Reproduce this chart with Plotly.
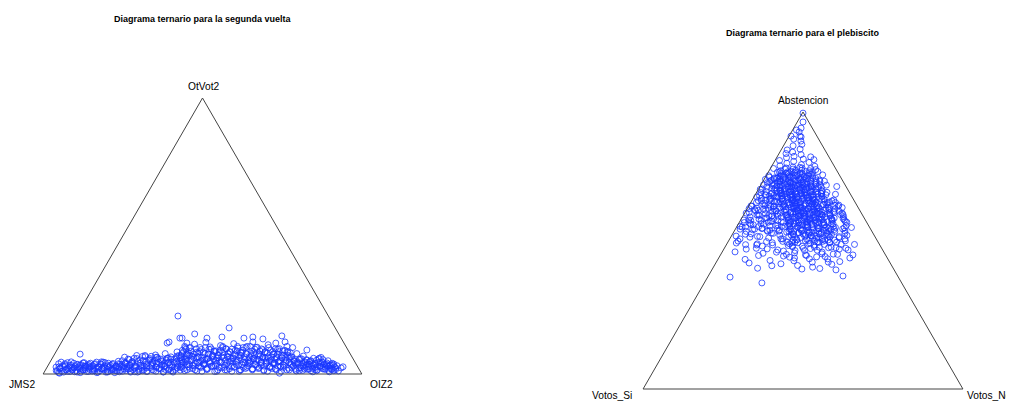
import plotly.graph_objects as go

# ---------------- Panel 1: segunda vuelta (values in %) ----------------
# a = OtVot2 (top), c = OIZ2 (bottom-right); JMS2 = 100 - a - c (filled in by plotly via sum)
otvot2 = [
    1.2, 0.5, 2.1, 0.3, 2.8, 1.5, 3.1, 0.9, 2.2, 1.4, 3.4, 0.8, 2.5, 1.8, 4.0, 1.1, 2.9, 7.2,
    1.6, 3.6, 2.2, 0.9, 3.0, 1.9, 4.3, 1.2, 2.6, 3.5, 0.7, 2.0, 4.1, 1.5, 3.0, 2.4, 0.9, 3.8,
    1.7, 2.9, 4.6, 1.2, 2.3, 3.4, 0.8, 4.0, 1.9, 2.7, 5.2, 1.3, 3.3,
    2.0, 4.5, 1.0, 3.1, 5.6, 2.4, 0.8, 3.9, 1.7, 4.8, 2.8, 6.3, 1.2, 3.6, 2.2, 5.1, 0.9, 4.2,
    2.9, 6.9, 1.6, 3.8, 5.5, 2.4, 1.0, 4.5, 3.2, 7.4, 1.8, 5.0, 2.7, 0.8, 4.0, 6.2, 3.3, 1.5,
    5.4, 2.4, 8.0, 4.4, 1.1, 3.6, 6.6, 2.2, 5.0, 9.6, 3.1, 1.4, 4.2, 7.1,
    21.0, 14.5, 16.7, 13.4, 13.8, 12.7, 11.2, 8.7, 11.6,
    2.5, 6.0, 4.2, 8.1, 1.2, 5.3, 3.3, 7.0, 9.5, 2.0, 4.8, 6.4, 3.0, 10.8, 5.7, 1.1, 7.6, 4.0,
    2.6, 8.9, 6.1, 3.6, 5.0, 11.5, 1.6, 7.3, 4.4, 9.8, 2.9, 6.6, 5.4, 0.9, 8.4, 3.8, 6.9, 4.7,
    10.3, 2.3, 7.8, 5.9, 3.2, 9.1, 1.4, 6.3, 4.5, 8.0, 2.7, 5.6, 11.0, 7.2, 3.5, 4.9, 9.4, 1.0,
    6.7, 5.2, 8.6, 2.4, 4.1, 7.5, 10.0, 3.0, 6.0, 4.6, 8.3, 1.8, 5.5, 7.0, 3.4, 9.7, 5.1, 2.2,
    6.5, 4.3, 8.8, 1.2, 5.8, 3.7, 7.6, 10.6, 4.8, 2.8, 6.2, 8.1, 3.9, 5.3, 1.5, 7.1, 4.4, 9.2,
    2.6, 5.9, 3.5, 6.8, 0.3, 4.9, 8.2, 2.1, 5.6, 3.8,
    6.2, 2.9, 4.6, 1.4, 7.4, 3.6, 5.2, 2.2, 4.1, 6.5, 1.8, 3.2, 5.0, 2.6, 4.4, 1.2, 3.7, 5.7,
    2.3, 3.3, 1.5, 4.2, 2.8, 6.0, 1.9, 3.4, 2.5, 4.0, 1.3, 3.0, 2.0, 3.6, 1.6, 2.2, 2.6,
    3.8, 7.4, 1.9, 5.6, 9.0, 4.6, 2.7, 6.8, 8.3, 3.1, 5.9, 1.5, 7.8, 4.2, 6.2, 9.6, 2.4, 5.0,
    3.8, 7.4, 1.9, 5.6, 9.0, 4.6, 2.7, 6.8, 8.3, 3.1, 5.9, 1.5, 7.8, 4.2, 6.2, 9.6, 2.4, 5.0,
    3.8, 7.4, 1.9, 5.6, 9.0, 4.6, 2.7, 6.8, 8.3, 3.1, 5.9, 1.5, 7.8, 4.2, 6.2, 9.6, 2.4, 5.0,
    3.8, 7.4, 1.9, 5.6, 9.0, 4.6, 2.7, 6.8, 8.3, 3.1, 5.9, 1.5, 7.8, 4.2, 6.2, 9.6, 2.4, 5.0,
    3.8, 7.4, 1.9, 5.6, 9.0, 4.6, 2.7, 6.8, 8.3, 3.1, 5.9, 1.5, 7.8, 4.2, 6.2, 2.4,
    2.6, 1.0, 3.7, 1.8, 4.4, 2.2, 0.7, 3.2, 1.5, 2.9, 2.6, 1.0, 3.7, 1.8, 4.4, 2.2, 0.7, 3.2,
    1.5, 2.9, 2.6, 1.0, 3.7, 1.8, 4.4, 2.2, 0.7, 3.2, 1.5, 2.9, 5.6, 4.0, 6.0, 2.0, 4.8, 3.0,
    5.8, 1.2, 4.4, 6.5,
    4.8, 2.0, 3.9, 1.2, 5.5, 2.9, 4.3, 1.7, 3.5, 4.8, 2.0, 3.9, 1.2, 5.5, 2.9, 4.3, 1.7, 3.5,
    4.8, 2.0, 3.9, 1.2,
    2.5, 1.1, 3.7, 1.9, 4.3, 2.9, 0.7, 3.3, 1.5, 4.1, 2.3, 0.9, 3.1, 1.7, 3.9, 2.7, 1.3, 3.5, 2.1, 0.5,
    3.3, 1.5, 4.1, 2.3, 0.9, 3.1, 1.7, 3.9, 2.7, 1.3, 3.5, 2.1, 0.5, 2.5, 1.1, 3.7, 1.9, 4.3, 2.9, 0.7,
    1.7, 3.9, 2.7, 1.3, 3.5, 2.1, 0.5, 2.5, 1.1, 3.7,
    3.5, 1.3, 4.8, 2.6, 6.1, 4.2, 2.0, 5.4, 3.2, 0.7, 3.9, 1.6, 5.7, 2.9, 6.7, 4.5, 1.0, 5.1, 2.3, 6.4,
    2.9, 6.7, 4.5, 1.0, 5.1, 2.3, 6.4, 3.5, 1.3, 4.8, 2.6, 6.1, 4.2, 2.0, 5.4, 3.2, 0.7, 3.9, 1.6, 5.7,
    4.2, 2.0, 5.4, 3.2, 0.7, 3.9, 1.6, 5.7, 2.9, 6.7,
    5.8, 2.4, 8.6, 4.3, 10.0, 6.7, 1.5, 7.7, 3.4, 9.6,
    5.3, 2.0, 7.2, 3.9, 9.1, 6.2, 2.9, 8.1, 4.8, 1.0,
    7.7, 3.4, 9.6, 5.3, 2.0, 7.2, 3.9, 9.1, 6.2, 2.9,
    8.1, 4.8, 1.0, 5.8, 2.4, 8.6, 4.3, 10.0, 6.7, 1.5,
    9.1, 6.2, 2.9, 8.1, 4.8, 1.0, 5.8, 2.4, 8.6, 4.3,
    10.0, 6.7, 1.5, 7.7, 3.4, 9.6, 5.3, 2.0, 7.2, 3.9,
    4.3, 10.0, 6.7, 1.5, 7.7, 3.4, 9.6, 5.3, 2.0, 7.2,
    3.9, 9.1, 6.2, 2.9, 8.1, 4.8, 1.0, 5.8, 2.4, 8.6,
    2.0, 7.2, 3.9, 9.1, 6.2, 2.9, 8.1, 4.8, 1.0, 5.8,
    2.4, 8.6, 4.3, 10.0, 6.7, 1.5, 7.7, 3.4, 9.6, 5.3,
    3.9, 1.1, 4.4, 2.1, 5.5, 3.1, 1.3, 4.2, 2.4, 5.2, 3.7, 1.8, 4.7, 2.9, 0.8, 3.4, 1.6, 5.0,
    2.6, 5.7, 4.2, 2.4, 5.2, 3.7, 1.8, 3.0, 2.9, 0.8, 3.4, 1.6, 3.2, 2.6, 2.2, 3.0, 1.1,
    # points standing above the band
    11.2, 11.6, 13.0, 13.0, 11.2, 13.0, 13.4, 13.0, 11.6,
]
oiz2 = [
    3.5, 4.6, 4.2, 5.0, 5.5, 6.3, 6.8, 7.2, 7.9, 8.4, 8.8, 9.5, 9.9, 10.6, 10.5, 11.3, 11.7, 8.0,
    12.4, 12.5, 13.2, 13.8, 14.1, 14.9, 14.6, 15.6, 16.0, 16.5, 16.9, 17.5, 17.4, 18.3, 18.7, 19.4, 19.9, 20.0,
    20.8, 21.4, 21.3, 22.0, 22.6, 23.1, 23.5, 23.8, 24.3, 24.9, 24.4, 25.4, 25.6,
    26.2, 25.8, 26.9, 27.2, 26.6, 27.9, 28.4, 28.5, 29.2, 29.0, 29.8, 28.9, 30.5, 30.6, 31.3, 31.0, 32.0, 32.1,
    32.7, 31.8, 33.4, 33.6, 33.3, 34.3, 34.9, 34.9, 35.5, 34.6, 36.2, 36.1, 36.8, 37.4, 37.3, 37.0, 38.1, 38.7,
    38.5, 39.2, 38.0, 39.6, 40.2, 40.4, 40.0, 41.0, 41.1, 39.8, 41.8, 42.3, 42.4, 41.5,
    31.8, 40.3, 50.0, 59.1, 68.0, 62.6, 67.4, 78.4, 70.1,
    41.8, 40.3, 41.6, 40.0, 43.8, 42.1, 43.5, 41.9, 41.1, 45.1, 44.1, 43.6, 45.7, 42.1, 45.1, 47.7, 44.8, 46.9,
    48.0, 45.2, 47.0, 48.5, 48.2, 45.3, 50.6, 48.1, 49.9, 47.5, 51.4, 49.8, 50.8, 53.4, 50.0, 52.6, 51.5, 52.9,
    50.5, 54.8, 52.4, 53.7, 55.4, 52.8, 57.0, 54.9, 56.2, 54.7, 57.8, 56.6, 54.3, 56.5, 58.8, 58.4, 56.5, 61.0,
    58.6, 59.6, 58.3, 61.7, 61.3, 59.9, 59.0, 62.8, 61.7, 62.7, 61.3, 64.8, 63.4, 62.9, 65.1, 62.3, 65.0, 66.7,
    64.9, 66.4, 64.5, 68.6, 66.7, 68.1, 66.5, 65.3, 68.6, 69.9, 68.6, 68.0, 70.5, 70.1, 72.4, 69.9, 71.6, 69.5,
    73.2, 71.9, 73.5, 72.1, 74.0, 73.8, 72.5, 75.9, 74.5, 75.7,
    74.9, 77.0, 76.5, 78.5, 75.9, 78.2, 77.8, 79.7, 79.2, 78.4, 81.1, 80.8, 80.3, 81.9, 81.4, 83.4, 82.6, 82.0,
    84.1, 83.9, 85.3, 84.3, 85.4, 84.2, 86.7, 86.3, 87.3, 87.0, 88.9, 88.5, 89.6, 89.4, 91.0, 92.4, 92.8,
    41.3, 39.9, 43.1, 41.6, 40.3, 42.9, 44.3, 42.6, 42.3, 45.3, 44.3, 46.9, 44.1, 46.3, 45.7, 44.4, 48.4, 47.5,
    48.5, 47.1, 50.3, 48.8, 47.5, 50.1, 51.5, 49.8, 49.5, 52.5, 51.5, 54.1, 51.3, 53.5, 52.9, 51.6, 55.6, 54.7,
    55.7, 54.3, 57.5, 56.0, 54.7, 57.3, 58.7, 57.0, 56.7, 59.7, 58.7, 61.3, 58.5, 60.7, 60.1, 58.8, 62.8, 61.9,
    62.9, 61.5, 64.7, 63.2, 61.9, 64.5, 65.9, 64.2, 63.9, 66.9, 65.9, 68.5, 65.7, 67.9, 67.3, 66.0, 70.0, 69.1,
    70.1, 68.7, 71.9, 70.4, 69.1, 71.7, 73.1, 71.4, 71.1, 74.1, 73.1, 75.7, 72.9, 75.1, 74.5, 76.8,
    3.7, 5.4, 5.0, 6.9, 6.6, 8.6, 10.3, 10.0, 11.8, 12.0, 13.2, 14.9, 14.5, 16.4, 16.1, 18.1, 19.8, 19.5,
    21.3, 21.5, 22.7, 24.4, 24.0, 25.9, 25.6, 27.6, 29.3, 29.0, 30.8, 31.0, 30.7, 32.4, 32.4, 35.3, 34.9, 36.7,
    36.3, 39.5, 38.9, 38.8,
    76.2, 78.2, 77.9, 79.8, 78.3, 80.2, 80.1, 82.0, 81.7, 81.6, 83.6, 83.3, 85.2, 83.7, 85.6, 85.5, 87.4, 87.1,
    87.0, 89.0, 88.7, 90.6,
    2.8, 3.9, 3.0, 4.3, 3.5, 4.6, 6.1, 5.2, 6.5, 5.6, 6.9, 8.0, 7.3, 8.4, 7.7, 8.7, 9.8, 9.1, 10.2, 11.4,
    10.4, 11.7, 10.8, 12.1, 13.2, 12.5, 13.6, 12.9, 13.9, 15.0, 14.3, 15.4, 16.6, 16.0, 17.1, 16.2, 17.5, 16.7, 17.8, 19.3,
    19.2, 18.5, 19.5, 20.6, 19.9, 21.0, 22.2, 21.6, 22.7, 21.8,
    22.3, 23.7, 22.4, 23.8, 22.5, 23.8, 25.3, 24.0, 25.4, 27.1, 25.9, 27.4, 25.7, 27.5, 26.0, 27.5, 29.6, 27.9, 29.7, 28.0,
    30.2, 28.6, 30.1, 32.2, 30.6, 32.4, 30.7, 32.5, 34.0, 32.6, 34.1, 32.7, 34.1, 35.5, 34.2, 35.7, 37.3, 36.1, 37.6, 36.0,
    37.1, 38.6, 37.3, 38.7, 40.4, 39.2, 40.7, 39.0, 40.8, 39.3,
    40.1, 42.2, 39.4, 41.9, 39.4, 41.5, 44.4, 41.7, 44.2, 41.4,
    44.0, 46.0, 43.7, 45.7, 43.5, 45.3, 47.3, 45.1, 47.1, 49.3,
    46.4, 48.9, 46.1, 48.6, 50.6, 48.4, 50.4, 48.2, 50.0, 52.0,
    49.8, 51.8, 54.0, 52.0, 54.0, 51.3, 53.8, 51.3, 53.3, 56.3,
    52.9, 54.7, 56.7, 54.4, 56.4, 58.7, 56.7, 58.7, 56.0, 58.5,
    56.0, 58.0, 61.0, 58.2, 60.7, 58.0, 60.5, 62.5, 60.3, 62.3,
    62.5, 60.0, 62.0, 64.9, 62.2, 64.7, 62.0, 64.5, 66.5, 64.2,
    66.3, 64.0, 65.8, 67.8, 65.6, 67.6, 69.9, 67.8, 69.9, 67.1,
    70.8, 68.6, 70.6, 68.3, 70.1, 72.2, 69.9, 71.9, 74.2, 72.1,
    74.2, 71.5, 74.0, 71.5, 73.5, 76.5, 73.7, 76.2, 73.5, 76.0,
    77.1, 78.9, 77.6, 79.2, 77.9, 79.5, 80.8, 79.7, 81.0, 80.0, 81.2, 82.5, 81.5, 82.8, 84.2, 83.3, 84.6, 83.3,
    84.9, 83.8, 84.9, 86.2, 85.2, 86.4, 87.7, 87.5, 88.0, 89.4, 88.5, 89.8, 89.4, 90.1, 90.7, 90.7, 92.1,
    # points standing above the band
    33.3, 33.7, 36.4, 37.1, 39.5, 44.9, 49.4, 56.5, 60.0,
]

# ---------------- Panel 2: plebiscito (values in %) ----------------
# a = Abstencion (top), c = Votos_No (bottom-right); Votos_Si = 100 - a - c
abstencion = [
    99.6, 96.4, 94.2, 92.8, 91.3, 91.3, 91.0, 93.5, 90.2, 89.5,
    87.8, 86.3, 86.6, 85.5, 85.0, 84.6, 84.0, 88.3,
    83.5, 83.0, 82.5, 82.2, 81.8, 81.5, 81.0, 80.6, 80.4, 80.1, 83.8, 82.8,
    79.6, 79.3, 79.0, 78.8, 78.5, 78.2, 78.0, 77.8, 77.5, 77.3, 77.0, 76.8, 76.6, 76.4, 76.2, 76.0,
    75.8, 75.6, 75.4, 75.2, 75.0, 79.8, 78.6, 77.1, 75.9,
    74.8, 74.6, 74.4, 74.2, 74.0, 73.8, 73.6, 73.4, 73.2, 73.0, 72.8, 72.6, 72.4, 72.2, 72.0, 71.8,
    71.6, 71.4, 71.2, 71.0, 70.8, 70.6, 70.4, 70.2, 70.0, 70.1, 74.9, 73.7, 72.9, 72.3, 71.5, 71.9,
    70.5, 73.1, 70.3,
    69.8, 69.6, 69.4, 69.2, 69.0, 68.8, 68.6, 68.4, 68.2, 68.0, 67.8, 67.6, 67.4, 67.2, 67.0, 66.8,
    66.6, 66.4, 66.2, 66.0, 65.8, 65.6, 65.4, 65.2, 65.0, 65.3, 65.1, 69.9, 69.1, 68.3, 67.7, 67.1,
    66.5, 65.9, 66.9, 68.7, 69.5, 67.3, 65.5, 68.9,
    64.8, 64.6, 64.4, 64.2, 64.0, 63.8, 63.6, 63.4, 63.2, 63.0, 62.8, 62.6, 62.4, 62.2, 62.0, 61.8,
    61.6, 61.4, 61.2, 61.0, 60.8, 60.6, 60.4, 60.2, 60.0, 60.1, 60.3, 60.5, 64.9, 64.3, 63.7, 63.1,
    62.5, 61.9, 61.3, 60.7, 62.9, 64.1, 61.5, 63.3,
    59.8, 59.5, 59.2, 59.0, 58.8, 58.5, 58.2, 58.0, 57.8, 57.5, 57.2, 57.0, 56.8, 56.5, 56.2, 56.0,
    55.8, 55.5, 55.2, 55.0, 59.6, 58.6, 57.6, 56.6, 55.6, 59.1, 57.3, 56.3, 58.3, 55.4, 59.9, 57.9,
    56.9, 55.9, 58.7,
    54.8, 54.5, 54.2, 54.0, 53.6, 53.3, 53.0, 52.7, 52.4, 52.0, 51.8, 51.5, 51.2, 51.0, 50.8, 50.5,
    50.2, 50.0, 54.6, 53.8, 52.9, 52.2, 51.6, 50.7, 53.5,
    49.5, 49.0, 48.6, 48.2, 47.8, 47.3, 46.8, 46.3, 45.8, 45.0, 44.5, 43.5,
    40.4, 38.3, 45.5, 40.8, 43.0, 43.3, 48.4, 53.4, 58.5,
    78.3, 77.9, 78.4, 77.7, 78.1, 77.2, 76.9, 77.4, 76.7, 77.0, 76.5, 76.1, 75.7, 76.3, 75.5, 75.9,
    76.0, 75.1, 74.7, 75.3, 74.5, 74.9, 75.0, 74.3, 73.9, 74.1, 73.5, 74.0, 73.3, 73.8, 73.6, 72.7,
    73.2, 72.5, 73.0, 72.3, 72.8, 72.1, 72.9, 71.7, 72.1, 71.4, 71.9, 71.2, 71.6, 71.3, 70.8, 71.1,
    70.4, 70.9, 70.2, 70.7, 70.6, 70.3, 69.8, 70.0, 69.4, 69.9, 69.2, 69.6, 69.3, 69.7, 68.8, 69.1,
    68.4, 68.9, 68.2, 68.6, 68.5, 68.1, 67.8, 68.0, 67.4, 67.9, 67.2, 67.6, 67.3, 67.7, 66.8, 67.1,
    66.4, 66.9, 66.2, 66.6, 66.5, 66.1, 65.8, 66.0, 65.4, 65.9, 65.2, 65.6, 65.3, 65.7, 64.8, 65.1,
    64.4, 64.9, 64.2, 64.6, 64.5, 64.1, 63.8, 64.0, 63.4, 63.9, 63.2, 63.6, 63.3, 63.7, 62.8, 63.1,
    62.4, 62.9, 62.2, 62.6, 62.5, 62.1, 61.8, 62.0, 61.4, 61.9, 61.2, 61.6, 61.3, 60.8, 61.1, 60.4,
    60.9, 60.2, 60.6, 60.5, 59.8, 60.0, 59.4, 59.9, 59.2, 59.6, 59.3, 58.8, 59.1, 58.4, 58.9, 58.2,
    58.6, 57.8, 58.0, 57.4, 57.9, 57.2, 57.6, 56.8, 57.1, 56.4, 56.9, 56.2, 55.8, 56.0, 55.4, 55.9,
    55.2, 54.8, 55.1, 54.4, 54.7, 53.8, 54.0, 53.4, 53.7, 52.8, 52.5, 52.9,
    80.0, 79.8, 79.6, 79.4, 79.2, 79.0, 78.8, 78.6, 78.4, 78.2, 78.0, 77.8, 77.6, 77.4, 77.2, 77.0,
    76.8, 76.6, 76.4, 76.2,
    76.0, 75.8, 75.7, 75.5, 75.4, 75.2, 75.0, 74.9, 74.7, 74.6, 74.4, 74.2, 74.1, 73.9, 73.8, 73.6,
    73.4, 73.3, 73.1, 73.0, 72.8, 72.6, 72.5, 72.3, 72.2,
    72.0, 71.9, 71.7, 71.6, 71.5, 71.3, 71.2, 71.1, 70.9, 70.8, 70.7, 70.5, 70.4, 70.3, 70.1, 70.0,
    69.9, 69.7, 69.6, 69.5, 69.3, 69.2, 69.1, 68.9, 68.8, 68.7, 68.5, 68.4, 68.3, 68.1,
    68.0, 67.9, 67.7, 67.6, 67.5, 67.3, 67.2, 67.1, 66.9, 66.8, 66.7, 66.5, 66.4, 66.3, 66.1, 66.0,
    65.9, 65.7, 65.6, 65.5, 65.3, 65.2, 65.1, 64.9, 64.8, 64.7, 64.5, 64.4, 64.3, 64.1,
    64.0, 63.9, 63.7, 63.6, 63.5, 63.3, 63.2, 63.1, 62.9, 62.8, 62.7, 62.5, 62.4, 62.3, 62.1, 62.0,
    61.9, 61.7, 61.6, 61.5, 61.3, 61.2, 61.1, 60.9, 60.8, 60.7, 60.5, 60.4, 60.3, 60.1,
    60.0, 59.9, 59.7, 59.6, 59.4, 59.3, 59.2, 59.0, 58.9, 58.7, 58.6, 58.4, 58.3, 58.2, 58.0, 57.9,
    57.7, 57.6, 57.4, 57.3, 57.2, 57.0, 56.9, 56.7, 56.6, 56.4, 56.3, 56.2,
    56.0, 55.8, 55.6, 55.5, 55.3, 55.1, 54.9, 54.7, 54.6, 54.4, 54.2, 54.0, 53.8, 53.7, 53.5, 53.3,
    53.1, 52.9, 52.8, 52.6, 52.4, 52.2,
    51.9, 51.5, 51.2, 50.8, 50.5, 50.1, 49.8, 49.4, 49.1, 48.7, 48.4, 48.0, 47.7, 47.3, 47.0,
    68.0, 67.0, 66.0, 65.2, 64.3, 63.5, 62.7, 61.8, 61.0, 60.2, 59.4, 58.6, 57.7, 56.9, 56.0, 55.1,
    54.2, 53.2, 52.1, 50.8,
    # left flank of the cloud, near the Votos_Si side
    76.5, 76.1, 75.7, 75.3, 74.9, 74.5, 74.1, 73.7, 73.3, 72.9,
    72.5, 72.1, 71.7, 71.3, 70.9, 70.5, 70.1, 69.7, 69.3, 68.9,
    68.5, 68.1, 67.7, 67.3, 66.9, 66.5, 66.1, 65.7, 65.3, 64.9,
    64.5, 64.1, 63.7, 63.3, 62.9, 62.5, 62.1, 61.7, 61.3, 60.9,
    60.5, 60.1, 59.7, 59.3, 58.9, 58.5, 58.1, 57.7, 57.3, 56.9,
    # right flank
    67.5, 66.3, 65.0, 64.2, 63.0, 62.2, 61.0, 60.2, 59.0, 58.2,
    57.0, 56.2, 55.0, 54.2, 53.0, 52.2, 51.0, 50.2, 66.0, 63.5,
    # lower fringe
    52.8, 52.0, 51.4, 50.6, 50.0, 49.4, 48.8, 48.2, 47.6, 47.0,
    46.4, 45.8, 45.2, 44.6, 44.0, 43.6, 46.0, 48.6, 51.2, 53.0,
]
votos_no = [
    0.2, 1.8, 2.3, 2.4, 3.4, 0.6, 3.9, 1.2, 2.0, 4.6,
    3.0, 1.9, 5.8, 4.0, 2.2, 7.1, 5.2, 5.5,
    3.1, 8.6, 1.4, 6.0, 11.0, 4.2, 9.0, 2.5, 13.5, 6.8, 10.5, 12.0,
    1.0, 4.8, 8.2, 12.6, 15.4, 2.9, 6.5, 10.1, 13.8, 17.5, 0.8, 4.4, 7.7, 11.2, 14.9, 9.3,
    3.0, 6.0, 12.5, 16.5, 19.2, 9.8, 7.0, 9.0, 10.9,
    2.2, 5.5, 8.8, 11.6, 14.2, 17.0, 20.5, 3.8, 7.0, 9.9, 12.7, 15.5, 18.6, 1.2, 5.0, 8.3,
    11.1, 13.9, 16.8, 22.0, 6.6, 9.6, 12.4, 15.3, 18.3, 3.1, 10.0, 13.0, 16.2, 10.5, 7.2, 14.6,
    20.5, 24.0, 25.0,
    1.5, 4.6, 7.5, 10.4, 13.1, 15.9, 18.8, 21.7, 25.5, 3.0, 6.2, 9.1, 11.8, 14.6, 17.3, 20.2,
    23.0, 28.0, 5.0, 8.0, 10.8, 13.5, 16.2, 19.0, 21.8, 24.5, 0.6, 12.0, 16.8, 12.2, 15.5, 19.5,
    12.4, 15.0, 9.8, 9.0, 20.0, 26.5, 29.5, 5.5,
    2.5, 6.0, 9.3, 12.0, 14.8, 17.5, 20.3, 23.0, 26.0, 31.0, 4.2, 8.0, 11.0, 13.8, 16.6, 19.4,
    22.1, 25.0, 28.5, 1.0, 6.5, 10.0, 13.0, 15.9, 18.7, 21.5, 24.5, 33.0, 18.0, 21.6, 14.2, 19.0,
    17.2, 14.5, 20.8, 17.3, 24.4, 27.5, 31.8, 10.5,
    3.5, 8.0, 12.5, 15.8, 19.0, 22.2, 25.5, 29.0, 33.5, 5.5, 10.2, 14.0, 17.2, 20.4, 23.6, 27.0,
    31.0, 36.0, 1.5, 9.0, 17.5, 14.0, 20.5, 24.5, 18.5, 21.5, 27.8, 12.0, 36.0, 26.0, 26.5, 8.2,
    31.5, 4.0, 1.0,
    6.0, 12.0, 16.5, 21.0, 25.0, 29.5, 34.0, 2.8, 9.5, 14.5, 19.5, 24.0, 28.0, 32.5, 38.0, 7.0,
    17.0, 22.5, 27.5, 31.0, 20.0, 40.0, 11.5, 27.0, 36.5,
    4.0, 13.0, 20.5, 27.0, 33.0, 41.0, 8.5, 24.0, 30.0, 36.5, 18.0, 33.5,
    7.0, 18.0, 10.4, 42.1, 38.8, 28.0, 41.4, 3.0, 1.7,
    3.5, 6.0, 8.4, 11.0, 13.0, 4.6, 7.2, 9.6, 12.2, 14.5, 5.8, 4.0, 6.9, 8.8, 11.5, 13.6,
    16.0, 5.2, 7.9, 10.2, 12.8, 15.0, 17.8, 9.1, 5.9, 8.0, 10.8, 13.6, 15.8, 18.3, 11.9, 6.4,
    8.6, 11.3, 13.9, 16.6, 19.3, 12.8, 10.0, 7.2, 9.4, 12.0, 14.2, 17.3, 20.0, 10.6, 7.9, 10.2,
    12.9, 15.1, 17.9, 20.4, 14.2, 9.0, 8.5, 11.0, 13.5, 16.1, 18.6, 21.0, 11.9, 14.8, 9.2, 11.6,
    14.3, 16.8, 19.5, 22.3, 12.8, 17.6, 9.9, 12.6, 15.1, 17.8, 20.4, 23.0, 13.8, 19.0, 10.6, 13.1,
    15.9, 18.5, 21.2, 24.1, 14.6, 17.2, 11.4, 14.0, 16.8, 19.4, 22.1, 25.0, 15.5, 20.6, 12.2, 14.7,
    17.5, 20.2, 22.9, 25.8, 16.1, 19.0, 12.8, 15.5, 18.3, 21.0, 23.7, 26.5, 17.0, 22.4, 13.6, 16.3,
    19.1, 21.8, 24.6, 27.2, 18.0, 22.8, 14.4, 17.0, 19.9, 22.5, 25.4, 28.0, 21.3, 15.0, 17.9, 20.7,
    23.4, 26.3, 28.8, 22.0, 15.8, 18.6, 21.5, 24.1, 27.0, 29.6, 23.2, 16.5, 19.4, 22.3, 25.0, 27.8,
    30.2, 17.3, 20.2, 23.0, 25.8, 28.6, 31.0, 18.0, 21.0, 23.8, 26.5, 29.4, 19.0, 22.0, 24.8, 27.6,
    30.4, 20.0, 23.0, 25.8, 28.6, 21.2, 24.2, 27.0, 30.0, 22.0, 25.5, 28.5,
    9.0, 4.8, 12.6, 7.2, 14.4, 10.2, 3.6, 11.4, 6.0, 13.8, 8.4, 4.2, 10.8, 6.6, 13.2, 9.6,
    5.4, 12.0, 7.8, 3.0,
    13.0, 4.8, 14.5, 7.8, 17.5, 10.8, 5.5, 13.8, 8.5, 16.8, 12.3, 7.0, 15.3, 10.0, 4.0, 11.5,
    6.3, 16.0, 9.3, 18.3, 13.3, 5.1, 14.8, 8.1, 17.8,
    13.1, 6.8, 16.7, 10.4, 20.3, 14.9, 8.6, 18.5, 12.2, 5.0, 14.0, 7.7, 19.4, 11.3, 22.1, 15.8,
    5.9, 17.6, 9.5, 21.2, 13.6, 7.3, 17.2, 10.9, 20.8, 15.4, 9.1, 19.0, 12.7, 5.5,
    13.7, 25.1, 18.4, 8.0, 20.3, 11.8, 24.1, 15.6, 8.9, 19.4, 12.7, 23.2, 17.5, 10.8, 21.3, 14.6,
    7.0, 16.5, 9.9, 22.2, 14.2, 25.6, 19.0, 8.5, 20.9, 12.3, 24.7, 16.1, 9.5, 19.9,
    23.7, 14.3, 27.9, 18.5, 11.1, 22.7, 15.3, 26.9, 20.6, 13.2, 24.8, 17.4, 9.0, 19.5, 12.2, 25.8,
    16.4, 28.9, 21.6, 10.1, 24.3, 14.9, 28.5, 19.1, 11.7, 23.3, 15.9, 27.5, 21.2, 13.8,
    25.0, 18.0, 29.0, 23.0, 16.0, 27.0, 20.0, 12.0, 22.0, 15.0, 28.0, 19.0, 31.0, 24.0, 13.0, 26.0,
    17.0, 30.0, 21.0, 14.0, 25.6, 18.6, 29.6, 23.6, 16.6, 27.6, 20.6, 12.6,
    19.0, 30.0, 23.0, 15.0, 25.0, 18.0, 31.0, 22.0, 34.0, 27.0, 16.0, 29.0, 20.0, 33.0, 24.0, 17.0,
    28.0, 21.0, 32.0, 26.0, 19.6, 30.6,
    27.5, 20.9, 33.2, 24.7, 36.1, 29.4, 19.0, 31.3, 22.8, 35.1, 26.6, 19.9, 30.4, 23.7, 34.2,
    2.0, 4.5, 1.0, 6.5, 3.0, 0.5, 5.0, 7.8, 2.5, 9.0, 4.0, 6.8, 1.5, 10.5, 5.8, 8.2,
    3.2, 12.0, 6.0, 10.0,
    # left flank of the cloud, near the Votos_Si side
    1.2, 3.6, 0.4, 2.4, 4.6, 1.6, 3.2, 0.8, 5.2, 2.2,
    4.0, 0.6, 6.0, 2.8, 1.4, 4.8, 3.4, 6.6, 0.9, 2.6,
    5.6, 4.2, 7.2, 1.8, 3.9, 6.2, 0.7, 7.9, 2.9, 5.2,
    3.8, 8.4, 1.3, 6.6, 4.6, 9.0, 2.4, 7.4, 5.6, 3.2,
    9.6, 1.6, 7.0, 4.8, 10.2, 2.8, 8.2, 6.0, 11.0, 3.8,
    # right flank
    24.5, 26.8, 27.5, 29.2, 30.2, 31.6, 32.4, 33.6, 34.0, 33.8,
    34.6, 35.0, 33.8, 36.0, 31.8, 35.8, 34.8, 39.0, 28.0, 30.5,
    # lower fringe
    14.0, 9.5, 21.0, 13.5, 25.5, 17.0, 31.5, 12.0, 22.0, 28.5,
    16.5, 35.0, 20.5, 26.0, 31.0, 14.0, 38.5, 36.5, 29.5, 18.5,
]
assert len(otvot2) == len(oiz2), (len(otvot2), len(oiz2))
assert len(abstencion) == len(votos_no), (len(abstencion), len(votos_no))

titles = ["Diagrama ternario para la segunda vuelta", "Diagrama ternario para el plebiscito"]
labels1 = ["OtVot2", "JMS2", "OIZ2"]
labels2 = ["Abstencion", "Votos_Si", "Votos_No"]

# page body has an 8px margin: the figure is drawn from (8, 8) in the window
OFF = 8
W, H = 1014 - OFF, 401 - OFF
FONT = "Liberation Sans, Arial, sans-serif"
marker = dict(symbol="circle-open", size=6, color="rgba(25,55,255,0.8)",
              line=dict(width=1, color="rgba(25,55,255,0.8)"))

fig = go.Figure()
fig.add_trace(go.Scatterternary(a=otvot2, c=oiz2, sum=100, mode="markers",
                                marker=marker, subplot="ternary", cliponaxis=False,
                                showlegend=False, hoverinfo="skip"))
fig.add_trace(go.Scatterternary(a=abstencion, c=votos_no, sum=100, mode="markers",
                                marker=marker, subplot="ternary2", cliponaxis=False,
                                showlegend=False, hoverinfo="skip"))

def axis():
    return dict(showgrid=False, showticklabels=False, ticks="", linecolor="#444",
                linewidth=1, title=dict(text=""), min=0)

def tern(x0, x1, ytop, ybot):
    return dict(sum=100, bgcolor="white",
                domain=dict(x=[(x0 - OFF) / W, (x1 - OFF) / W],
                            y=[1 - (ybot - OFF) / H, 1 - (ytop - OFF) / H]),
                aaxis=axis(), baxis=axis(), caxis=axis())

fig.update_layout(
    width=W, height=H, margin=dict(l=0, r=0, t=0, b=0),
    paper_bgcolor="white", plot_bgcolor="white",
    font=dict(family=FONT, color="black"),
    ternary=tern(43, 362, 98, 374),
    ternary2=tern(643, 963, 112, 389),
)

def ann(text, x, y, size=10.2, bold=False):
    fig.add_annotation(text=f"<b>{text}</b>" if bold else text,
                       x=(x - OFF) / W, y=1 - (y - OFF) / H,
                       xref="paper", yref="paper", showarrow=False,
                       xanchor="center", yanchor="middle",
                       font=dict(size=size, color="black", family=FONT))

ann(titles[0], 203, 19, size=9, bold=True)
ann(titles[1], 803, 33, size=9, bold=True)
ann(labels1[0], 203, 86)
ann(labels1[1], 22, 384)
ann(labels1[2], 381, 384)
ann(labels2[0], 803, 100)
ann(labels2[1], 612, 395)
ann(labels2[2], 989, 395)

fig.write_html("out.html")
